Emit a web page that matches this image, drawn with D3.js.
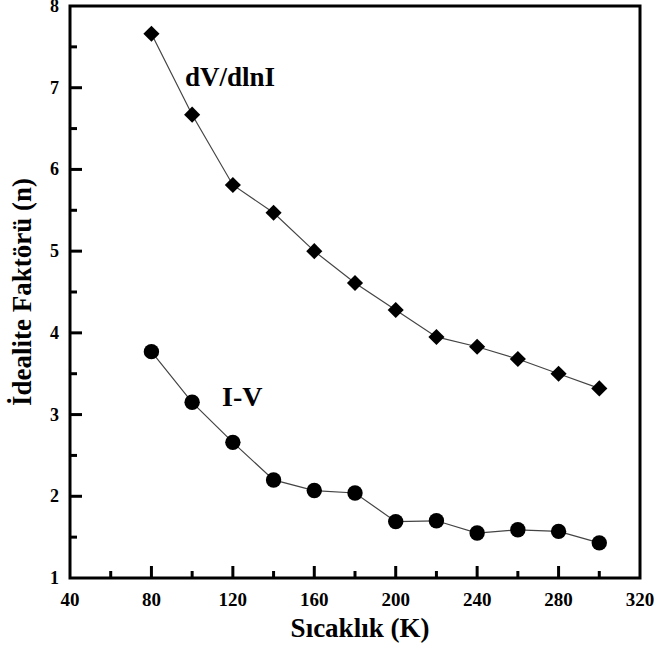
<!DOCTYPE html>
<html><head><meta charset="utf-8">
<script src="https://cdn.jsdelivr.net/npm/d3@7"></script>
<style>html,body{margin:0;padding:0;background:#fff}
svg text{font-family:"Liberation Serif","DejaVu Serif","Times New Roman",serif;font-weight:bold}</style>
</head><body>
<svg id="c" width="655" height="649"></svg>
<script>
const temps = [80,100,120,140,160,180,200,220,240,260,280,300];
const nDvDlnI = [7.66,6.67,5.81,5.47,5.00,4.61,4.28,3.95,3.83,3.68,3.50,3.32];
const nIV = [3.77,3.15,2.66,2.20,2.07,2.04,1.69,1.70,1.55,1.59,1.57,1.43];
const xTicks = [40,80,120,160,200,240,280,320];
const yTicks = [1,2,3,4,5,6,7,8];
const xLabel = "Sıcaklık (K)";
const yLabel = "İdealite Faktörü (n)";
const seriesLabels = ["dV/dlnI","I-V"];

const svg = d3.select("#c");
const L=70,R=640,T=6,B=578;
const x = d3.scaleLinear().domain([40,320]).range([L,R]);
const y = d3.scaleLinear().domain([1,8]).range([B,T]);

const xMinor = d3.range(60,320,40);
const yMinor = d3.range(1.5,8,1);
const g = svg.append("g").attr("stroke","#000").attr("stroke-width",3);
g.selectAll("line.xmaj").data(xTicks.slice(1,-1)).join("line").attr("class","xmaj")
 .attr("x1",d=>x(d)).attr("x2",d=>x(d)).attr("y1",B).attr("y2",B-12);
g.selectAll("line.xmin").data(xMinor).join("line").attr("class","xmin")
 .attr("x1",d=>x(d)).attr("x2",d=>x(d)).attr("y1",B).attr("y2",B-7);
g.selectAll("line.ymaj").data(yTicks.slice(1,-1)).join("line").attr("class","ymaj")
 .attr("y1",d=>y(d)).attr("y2",d=>y(d)).attr("x1",L).attr("x2",L+12);
g.selectAll("line.ymin").data(yMinor).join("line").attr("class","ymin")
 .attr("y1",d=>y(d)).attr("y2",d=>y(d)).attr("x1",L).attr("x2",L+7);

svg.append("rect").attr("x",L).attr("y",T).attr("width",R-L).attr("height",B-T)
 .attr("fill","none").attr("stroke","#000").attr("stroke-width",3);

svg.selectAll("text.xl").data(xTicks).join("text").attr("class","xl")
 .attr("x",d=>x(d)).attr("y",606).attr("text-anchor","middle")
 .attr("font-size",19).text(d=>d);
svg.selectAll("text.yl").data(yTicks).join("text").attr("class","yl")
 .attr("x",59).attr("y",d=>y(d)+6).attr("text-anchor","end")
 .attr("font-size",18).text(d=>d);

svg.append("text").attr("x",360).attr("y",637).attr("text-anchor","middle")
 .attr("font-size",27).text(xLabel);
svg.append("text").attr("transform","translate(31,292) rotate(-90)").attr("text-anchor","middle")
 .attr("font-size",27).text(yLabel);

const line = d3.line().x((d,i)=>x(temps[i])).y(d=>y(d));
[nDvDlnI,nIV].forEach(s=>{
  svg.append("path").attr("d",line(s)).attr("fill","none").attr("stroke","#444").attr("stroke-width",1.2);
});
const diamond = d3.symbol().type(d3.symbolSquare).size(130);
svg.selectAll("path.dm").data(nDvDlnI).join("path").attr("class","dm")
 .attr("d",diamond())
 .attr("transform",(d,i)=>`translate(${x(temps[i])},${y(d)}) rotate(45)`)
 .attr("fill","#000");
svg.selectAll("circle.ci").data(nIV).join("circle").attr("class","ci")
 .attr("cx",(d,i)=>x(temps[i])).attr("cy",d=>y(d)).attr("r",7.7).attr("fill","#000");

svg.append("text").attr("x",185).attr("y",86).attr("font-size",27).text(seriesLabels[0]);
svg.append("text").attr("x",222).attr("y",406).attr("font-size",28).text(seriesLabels[1]);
</script>
</body></html>
